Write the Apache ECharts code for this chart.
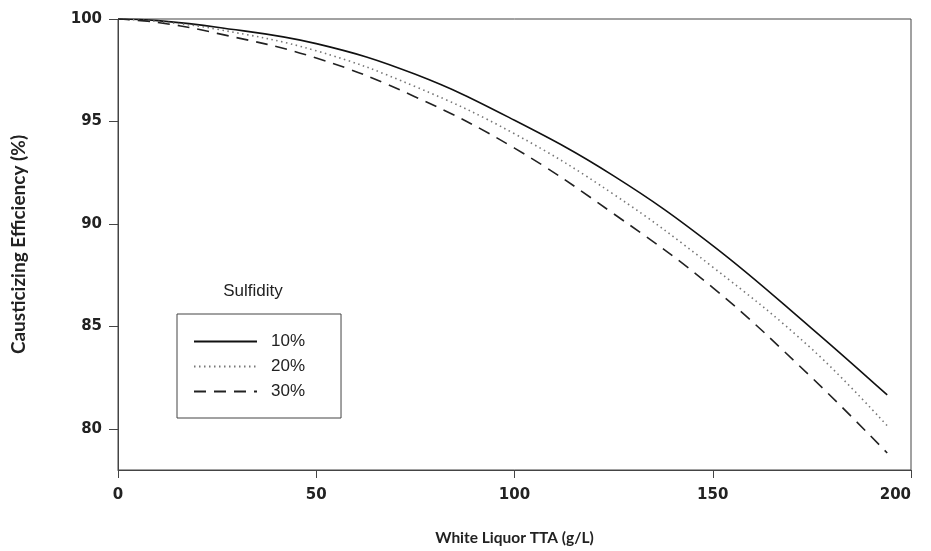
<!DOCTYPE html>
<html>
<head>
<meta charset="utf-8">
<script src="https://cdn.jsdelivr.net/npm/echarts@6/dist/echarts.min.js"></script>
<style>
  html, body { margin: 0; padding: 0; background: #fff; }
  #chart { width: 931px; height: 551px; }
</style>
</head>
<body>
<div id="chart"></div>
<script>
// White liquor TTA (g/L)
const tta = [0, 10, 25, 50, 75, 100, 125, 150, 175, 194];
// Causticizing efficiency (%) at each sulfidity
const eff10 = [100, 99.92, 99.6, 98.8, 97.3, 95.06, 92.35, 88.95, 84.9, 81.66];
const eff20 = [100, 99.88, 99.5, 98.45, 96.7, 94.4, 91.45, 87.9, 83.9, 80.16];
const eff30 = [100, 99.83, 99.3, 98.1, 96.2, 93.7, 90.5, 86.9, 82.5, 78.83];
const seriesNames = ['10%', '20%', '30%'];
const xTicks = [0, 50, 100, 150, 200];
const yTicks = [80, 85, 90, 95, 100];

const pairs = arr => tta.map((x, i) => [x, arr[i]]);

const chart = echarts.init(document.getElementById('chart'));
const tickFont = { fontFamily: 'DejaVu Sans', fontWeight: 'bold', fontSize: 15, color: '#222' };

chart.setOption({
  animation: false,
  backgroundColor: '#fff',
  grid: { left: 118, right: 20, top: 19, bottom: 79, show: true, borderColor: '#444', borderWidth: 1 },
  xAxis: {
    type: 'value', min: 0, max: 200, interval: 50,
    name: 'White Liquor TTA (g/L)', nameLocation: 'middle', nameGap: 60,
    nameTextStyle: { fontFamily: 'Lato', fontWeight: 'bold', fontSize: 15.5, color: '#222' },
    axisLine: { lineStyle: { color: '#444', width: 1 } },
    axisTick: { inside: false, length: 8, lineStyle: { color: '#444' }, customValues: xTicks },
    axisLabel: Object.assign({ margin: 18, alignMaxLabel: 'right', customValues: xTicks }, tickFont),
    splitLine: { show: false }
  },
  yAxis: {
    type: 'value', min: 78, max: 100,
    name: 'Causticizing Efficiency (%)', nameLocation: 'middle', nameGap: 90,
    nameTextStyle: { fontFamily: 'Lato', fontWeight: 'bold', fontSize: 19, color: '#222' },
    axisLine: { lineStyle: { color: '#444', width: 1 } },
    axisTick: { inside: false, length: 9, lineStyle: { color: '#444' }, customValues: yTicks },
    axisLabel: Object.assign({ margin: 16, customValues: yTicks }, tickFont),
    splitLine: { show: false }
  },
  legend: {
    data: seriesNames,
    orient: 'vertical',
    left: 177, top: 314,
    padding: [19, 36, 18, 16],
    itemWidth: 63, itemHeight: 14, itemGap: 11 - 3,
    borderColor: '#444', borderWidth: 1,
    itemStyle: { opacity: 0 },
    textStyle: { fontFamily: 'Liberation Sans', fontSize: 17, color: '#222', padding: [0, 0, 0, 9] }
  },
  graphic: [{
    type: 'text', x: 253, y: 283,
    style: { text: 'Sulfidity', textAlign: 'center', fontFamily: 'Liberation Sans', fontSize: 17, fill: '#222' }
  }],
  series: [
    { name: seriesNames[0], type: 'line', data: pairs(eff10), smooth: 0.4, symbol: 'none',
      lineStyle: { color: '#111', width: 1.6, type: 'solid' } },
    { name: seriesNames[1], type: 'line', data: pairs(eff20), smooth: 0.4, symbol: 'none',
      lineStyle: { color: '#777', width: 1.6, type: [1.5, 3.5] } },
    { name: seriesNames[2], type: 'line', data: pairs(eff30), smooth: 0.4, symbol: 'none',
      lineStyle: { color: '#222', width: 1.6, type: [12, 8] } }
  ]
});
</script>
</body>
</html>
